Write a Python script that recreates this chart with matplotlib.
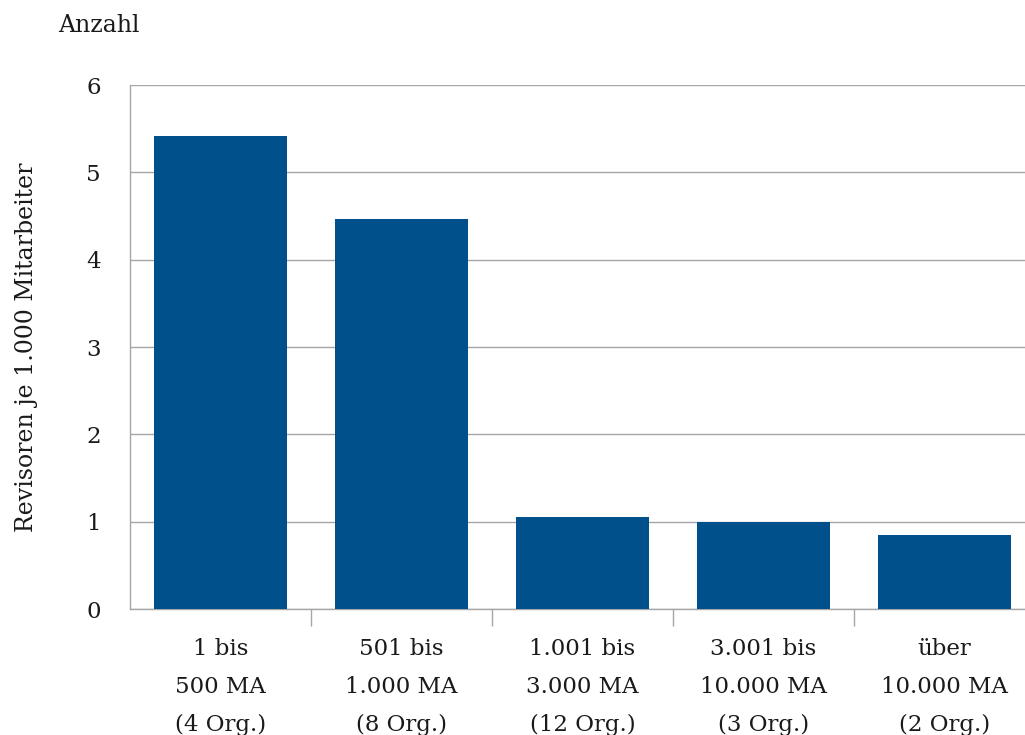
import numpy as np
import matplotlib.pyplot as plt

# Revisoren je 1.000 Mitarbeiter nach Unternehmensgröße
groups = ["1 bis\n500 MA\n(4 Org.)",
          "501 bis\n1.000 MA\n(8 Org.)",
          "1.001 bis\n3.000 MA\n(12 Org.)",
          "3.001 bis\n10.000 MA\n(3 Org.)",
          "über\n10.000 MA\n(2 Org.)"]
revisors = [5.42, 4.46, 1.05, 1.0, 0.85]
yticks = [0, 1, 2, 3, 4, 5, 6]

bar_color = '#00508c'
line_color = '#a6a6a6'
text_color = '#1a1a1a'

plt.rcParams['font.family'] = ['DejaVu Serif']

fig = plt.figure(figsize=(10.25, 7.35), dpi=100)
ax = fig.add_axes([130 / 1025, 126 / 735, 905 / 1025, 524 / 735])

x = np.arange(len(groups))
ax.bar(x, revisors, width=0.73, color=bar_color, zorder=3)

ax.set_xlim(-0.5, len(groups) - 0.5)
ax.set_ylim(0, 6)
ax.set_yticks(yticks)
ax.set_yticklabels([str(t) for t in yticks], fontsize=16.5, color=text_color)
ax.yaxis.grid(True, color=line_color, linewidth=1, zorder=0)
ax.tick_params(axis='y', length=0, pad=21)

ax.set_xticks(x)
ax.set_xticklabels(groups, fontsize=16.5, color=text_color, linespacing=1.93)
ax.set_xticks(np.arange(0.5, len(groups) - 0.5), minor=True)
ax.tick_params(axis='x', which='major', length=0, pad=21)
ax.tick_params(axis='x', which='minor', length=12, width=1, color=line_color)

for side in ['top', 'right']:
    ax.spines[side].set_visible(False)
for side in ['left', 'bottom']:
    ax.spines[side].set_color(line_color)
    ax.spines[side].set_linewidth(1)

ax.set_ylabel('Revisoren je 1.000 Mitarbeiter', fontsize=17, labelpad=35, color=text_color)
fig.text(58 / 1025, 1 - 26 / 735, 'Anzahl', fontsize=17, va='center', ha='left', color=text_color)

fig.savefig('out.png', dpi=100)
